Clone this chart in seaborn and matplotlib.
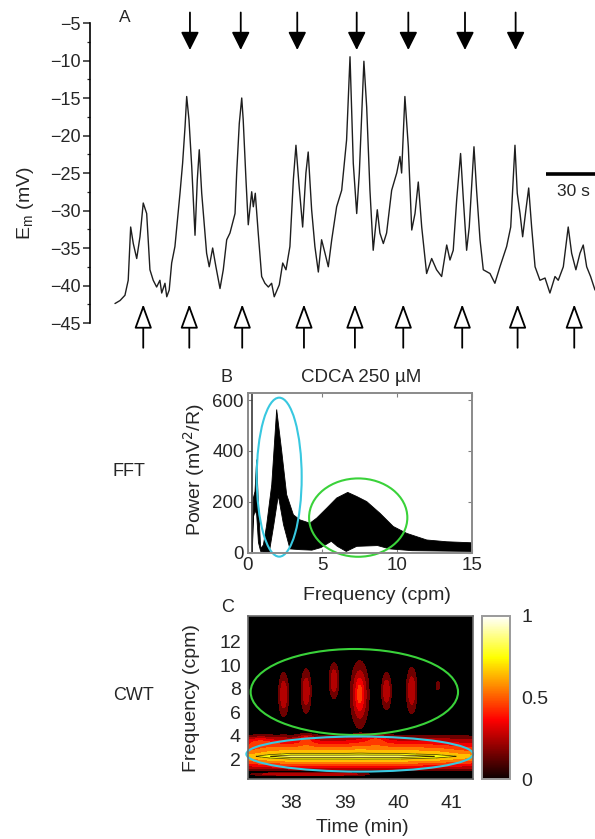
import numpy as np
import pandas as pd
import matplotlib
matplotlib.use("Agg")
import matplotlib.pyplot as plt
import seaborn as sns
from matplotlib.patches import Ellipse
from matplotlib.ticker import FixedLocator
from matplotlib.cm import ScalarMappable
from matplotlib.colors import Normalize

# ---------------- data ----------------
trace_time = [0, 3.1, 6.1, 8.1, 9.6, 11.2, 13.3, 15.3, 17.3, 19.4, 21.4, 23.4, 25.5, 27.5, 28.6, 30.6,
              31.7, 33.2, 34.7, 36.7, 39.8, 41.4, 42.9, 43.9, 45.3, 47.0, 49.0, 50.4, 51.6, 53.1, 56.1,
              57.7, 59.8, 61.8, 64.3, 66.3, 68.4, 70.4, 73.5, 74.5, 76.1, 77.6, 78.5, 80.2, 81.6, 83.7,
              84.7, 85.9, 87.7, 89.8, 91.8, 93.9, 95.9, 97.5, 100.6, 102.7, 104.7, 107.1, 109.2, 110.8,
              112.6, 114.9, 116.9, 118.3, 120.4, 122.4, 124.5, 126.5, 128.6, 130.6, 132.7, 135.7, 138.8,
              141.8, 143.9, 145.9, 148.0, 149.6, 152.4, 154.1, 156.1, 158.1, 160.6, 162.2, 164.3, 166.3,
              169.4, 172.5, 174.5, 175.5, 177.5, 179.6, 181.7, 183.7, 185.7, 187.8, 190.8, 193.9, 196.9,
              200.0, 203.1, 205.1, 207.1, 209.2, 211.6, 213.2, 215.3, 216.9, 219.8, 221.4, 223.5, 225.5,
              229.6, 232.6, 235.7, 239.8, 242.3, 244.9, 246.3, 248.0, 249.6, 251.6, 253.3, 255.1, 257.2,
              260.2, 263.3, 266.3, 269.4, 271.4, 274.5, 277.5, 279.6, 282.2, 284.7, 286.7, 288.8, 291.2,
              293.9]
trace_mv = [-42.4, -42.0, -41.3, -39.3, -32.2, -34.4, -36.4, -33.5, -29.0, -30.4, -37.9, -39.3, -40.2,
            -39.3, -41.0, -39.7, -41.5, -40.6, -37.0, -34.8, -27.7, -23.7, -18.8, -14.8, -17.9, -24.2,
            -33.3, -25.9, -21.9, -27.7, -35.7, -37.5, -35.0, -37.5, -40.4, -37.9, -33.9, -33.0, -30.4,
            -25.0, -18.4, -15.0, -17.9, -25.9, -31.9, -27.5, -29.5, -27.7, -33.0, -38.8, -39.7, -40.2,
            -39.7, -41.5, -39.9, -37.0, -37.9, -34.8, -25.9, -21.3, -26.4, -32.2, -25.0, -22.2, -29.9,
            -34.8, -38.2, -33.9, -35.7, -37.5, -33.9, -29.5, -27.3, -20.6, -9.5, -23.7, -30.4, -25.0,
            -10.1, -16.2, -27.3, -35.3, -29.9, -33.0, -34.4, -33.0, -27.3, -25.0, -22.8, -25.0, -14.8,
            -21.5, -32.6, -30.4, -26.2, -32.2, -38.4, -36.4, -37.9, -38.8, -34.6, -36.6, -35.3, -28.6,
            -22.4, -28.2, -35.3, -32.2, -21.5, -27.3, -33.9, -37.9, -38.4, -39.7, -37.5, -34.8, -32.2,
            -21.3, -27.7, -30.4, -33.5, -29.9, -27.0, -32.2, -37.5, -39.3, -39.0, -41.0, -38.8, -39.3,
            -37.5, -32.2, -35.7, -37.9, -35.7, -34.6, -37.5, -38.8, -40.6]
down_arrow_time = [45.9, 77.0, 111.6, 148.0, 179.6, 214.3, 245.3]
up_arrow_time = [17.3, 45.5, 77.9, 115.7, 146.9, 176.5, 212.6, 246.5, 281.2]
em_ticks = [-5, -10, -15, -20, -25, -30, -35, -40, -45]
em_minor_ticks = [-7.5, -12.5, -17.5, -22.5, -27.5, -32.5, -37.5, -42.5]

fft_upper_freq = [0.31, 0.38, 0.49, 0.60, 0.71, 0.87, 1.05, 1.27, 1.61, 1.94, 2.28, 2.61, 3.06, 3.50,
                  4.17, 4.62, 5.29, 5.96, 6.70, 7.30, 7.97, 8.86, 9.75, 10.65, 11.99, 13.33, 15.0]
fft_upper_power = [0, 215, 241, 366, 201, 17, 30, 109, 267, 563, 398, 228, 149, 129,
                   116, 136, 175, 215, 237, 221, 201, 155, 103, 76, 50, 43, 39]
fft_lower_freq = [0.31, 0.38, 0.5, 0.6, 0.72, 0.87, 1.05, 1.45, 1.75, 2.05, 2.4, 2.83, 3.5, 4.3,
                  4.9, 5.6, 6.0, 6.6, 7.3, 8.7, 9.5, 11.0, 15.0]
fft_lower_power = [0, 140, 165, 150, 40, 5, 3, 3, 110, 225, 110, 15, 12, 10,
                   20, 45, 25, 5, 25, 28, 15, 8, 5]
fft_dc_freq = 0.31
fft_xticks = [0, 5, 10, 15]
fft_yticks = [0, 200, 400, 600]

# CWT: low-frequency band profile and transient blobs
band_freq = [0.29, 0.9, 1.27, 1.68, 2.05, 2.25, 2.45, 2.97, 3.65, 4.3, 14.2]
band_freq_level = [0.0, 0.0, 0.28, 0.52, 0.72, 0.84, 0.72, 0.52, 0.26, 0.0, 0.0]
band_time = [37.19, 37.6, 38.0, 39.0, 40.0, 40.7, 41.4]
band_time_level = [0.78, 0.93, 1.0, 1.0, 1.0, 0.93, 0.76]
blob_time = [37.86, 38.28, 38.80, 39.28, 39.28, 39.78, 40.25, 40.74,
             38.28, 39.58, 37.4, 37.6, 38.1, 38.6, 39.1]
blob_freq = [7.5, 7.8, 8.7, 7.5, 7.6, 7.8, 7.85, 8.25,
             3.7, 3.7, 3.5, 0.72, 0.72, 0.72, 0.72]
blob_sig_time = [0.065, 0.065, 0.062, 0.11, 0.04, 0.062, 0.068, 0.025,
                 0.09, 0.14, 0.2, 0.3, 0.3, 0.3, 0.3]
blob_sig_freq = [1.3, 1.3, 1.05, 1.8, 0.9, 1.1, 1.35, 0.3,
                 0.35, 0.35, 0.3, 0.08, 0.08, 0.08, 0.08]
blob_amp = [0.29, 0.29, 0.29, 0.36, 0.1, 0.29, 0.29, 0.2,
            0.17, 0.17, 0.15, 0.2, 0.2, 0.2, 0.2]
cwt_xticks = [38, 39, 40, 41]
cwt_yticks = [2, 4, 6, 8, 10, 12]
cbar_ticks = [0, 0.5, 1]

# ---------------- style ----------------
sns.set_style("white")
plt.rcParams["font.family"] = ["Liberation Sans", "DejaVu Sans"]
plt.rcParams["axes.unicode_minus"] = True

W, H = 595, 839
fig = plt.figure(figsize=(W / 100, H / 100), dpi=100)


def fx(px):
    return px / W


def fy(py):
    return 1 - py / H


# ---------------- Panel A ----------------
axA = fig.add_axes([fx(90), fy(348), (595 - 90) / W, 340 / H])
df = pd.DataFrame({"t": trace_time, "v": trace_mv})
sns.lineplot(data=df, x="t", y="v", ax=axA, color="#1e1e1e", lw=1.0, estimator=None, sort=False)
axA.set_xlim(-15.3, 293.9)
axA.set_ylim(-48.33, -3)
for s in ["top", "right", "bottom"]:
    axA.spines[s].set_visible(False)
axA.spines["left"].set_bounds(-45, -5)
axA.spines["left"].set_linewidth(1.2)
axA.spines["left"].set_color("black")
axA.set_yticks(em_ticks)
axA.set_yticklabels(["\u2212" + str(-v) for v in em_ticks])
axA.yaxis.set_minor_locator(FixedLocator(em_minor_ticks))
axA.tick_params(axis="y", which="major", length=5, width=1.1, direction="out", labelsize=13, pad=2, left=True)
axA.tick_params(axis="y", which="minor", length=2.5, width=0.9, direction="out", left=True)
axA.set_xticks([])
axA.set_xlabel("")
axA.set_ylabel("")

for t in down_arrow_time:
    axA.annotate("", xy=(t, -8.6), xytext=(t, -3.6),
                 arrowprops=dict(arrowstyle="-|>,head_length=1.1,head_width=0.55", color="black",
                                 lw=1.3, shrinkA=0, shrinkB=0, mutation_scale=10),
                 annotation_clip=False)
for t in up_arrow_time:
    axA.annotate("", xy=(t, -42.5), xytext=(t, -48.3),
                 arrowprops=dict(arrowstyle="-|>,head_length=1.5,head_width=0.55", fc="white", ec="black",
                                 lw=1.3, shrinkA=0, shrinkB=0, mutation_scale=10),
                 annotation_clip=False)

axA.plot([263.9, 293.9], [-25.1, -25.1], color="black", lw=2.6, clip_on=False, solid_capstyle="butt")
axA.text(280.5, -27.4, "30 s", ha="center", va="center", fontsize=12.5)
fig.text(fx(125), fy(18), "A", ha="center", va="center", fontsize=12.5)
fig.text(fx(25), fy(203), "E$_\\mathregular{m}$ (mV)", rotation=90, ha="center", va="center", fontsize=14)

# ---------------- Panel B ----------------
axB = fig.add_axes([fx(247.7), fy(552.7), 224 / W, 160 / H])
poly_x = list(fft_upper_freq) + list(fft_lower_freq[::-1])
poly_y = list(fft_upper_power) + list(fft_lower_power[::-1])
axB.fill(poly_x, poly_y, color="black", lw=0.6, ec="black")
axB.axvline(fft_dc_freq, color="#3a3a3a", lw=1.2)
axB.set_xlim(0, 15)
axB.set_ylim(0, 629)
axB.set_xticks(fft_xticks)
axB.set_yticks(fft_yticks)
axB.tick_params(which="both", direction="in", length=3, width=0.8, color="#808080",
                top=True, right=True, bottom=True, left=True, labelsize=13.5, pad=3)
for s in axB.spines.values():
    s.set_color("#8a8a8a")
    s.set_linewidth(1.4)
axB.add_patch(Ellipse((2.11, 297), 3.01, 625, fill=False, ec="#38c8e0", lw=1.5, clip_on=False))
axB.add_patch(Ellipse((7.40, 138), 6.58, 308, fill=False, ec="#3ad23a", lw=1.5, clip_on=False))
fig.text(fx(227), fy(377), "B", ha="center", va="center", fontsize=13)
fig.text(fx(361), fy(377), "CDCA 250 µM", ha="center", va="center", fontsize=13.5)
fig.text(fx(377), fy(595), "Frequency (cpm)", ha="center", va="center", fontsize=14)
fig.text(fx(194), fy(470), "Power (mV$^2$/R)", rotation=90, ha="center", va="center", fontsize=14)
fig.text(fx(113), fy(472), "FFT", ha="left", va="center", fontsize=13)

# ---------------- Panel C ----------------
axC = fig.add_axes([fx(247.7), fy(779.3), 225.6 / W, 163.3 / H])
tt = np.linspace(37.19, 41.40, 420)
ff = np.linspace(0.29, 14.2, 560)
T, F = np.meshgrid(tt, ff)
Z = np.outer(np.interp(ff, band_freq, band_freq_level), np.interp(tt, band_time, band_time_level))
for t0, f0, st, sf, a in zip(blob_time, blob_freq, blob_sig_time, blob_sig_freq, blob_amp):
    Z = Z + a * np.exp(-((T - t0) ** 2) / (2 * st ** 2) - ((F - f0) ** 2) / (2 * sf ** 2))
Z = np.clip(Z, 0, 0.999)
levels = np.linspace(0, 1, 11)
cmap = plt.get_cmap("hot")
cols = ["black"] + [cmap((levels[i] + levels[i + 1]) / 2) for i in range(1, len(levels) - 1)]
axC.contourf(T, F, Z, levels=levels, colors=cols)
axC.contour(T, F, Z, levels=[0.7, 0.78], colors="#3a2a00", linewidths=0.5)
axC.set_xlim(37.19, 41.40)
axC.set_ylim(0.29, 14.2)
axC.set_xticks(cwt_xticks)
axC.set_yticks(cwt_yticks)
axC.tick_params(length=0, labelsize=14)
axC.tick_params(axis="x", pad=11)
axC.tick_params(axis="y", pad=5)
for s in axC.spines.values():
    s.set_color("#6a6a6a")
    s.set_linewidth(1.2)
axC.add_patch(Ellipse((39.18, 7.73), 3.87, 7.32, fill=False, ec="#3ad23a", lw=1.5, clip_on=False))
axC.add_patch(Ellipse((39.28, 2.44), 4.23, 2.99, fill=False, ec="#38c8e0", lw=1.5, clip_on=False))
fig.text(fx(227.5), fy(608), "C", ha="center", va="center", fontsize=13)
fig.text(fx(192), fy(698), "Frequency (cpm)", rotation=90, ha="center", va="center", fontsize=14)
fig.text(fx(362), fy(827), "Time (min)", ha="center", va="center", fontsize=14)
fig.text(fx(113), fy(695), "CWT", ha="left", va="center", fontsize=13)

cax = fig.add_axes([fx(481.7), fy(779.3), 28.3 / W, 163.3 / H])
cb = fig.colorbar(ScalarMappable(norm=Normalize(0, 1), cmap=cmap), cax=cax, ticks=cbar_ticks)
cb.ax.set_yticklabels(["0", "0.5", "1"])
cb.ax.tick_params(length=0, labelsize=14, pad=8)
cb.outline.set_edgecolor("#9a9a9a")
cb.outline.set_linewidth(1.4)

fig.savefig("out.png", dpi=100)
